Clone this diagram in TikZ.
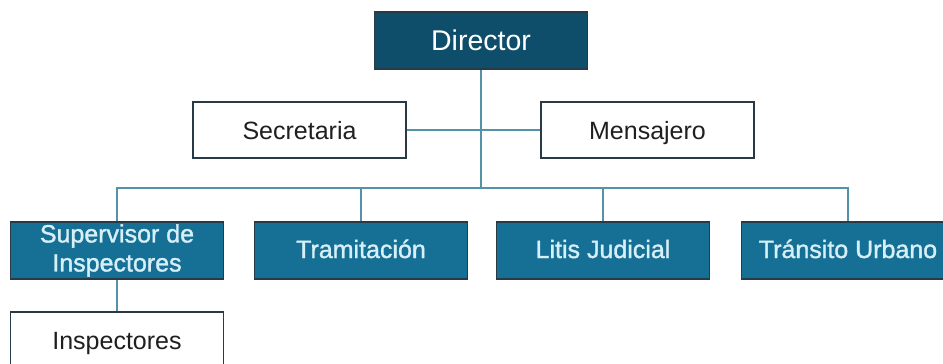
\documentclass[tikz,border=0pt]{standalone}
\usepackage{fontspec}
\setmainfont{Liberation Sans}
\newfontfamily\semib[FakeBold=1.3]{Liberation Sans}
\usetikzlibrary{backgrounds}
\definecolor{dirfill}{RGB}{14,78,106}
\definecolor{unitfill}{RGB}{22,112,150}
\definecolor{boxline}{RGB}{40,58,70}
\definecolor{conn}{RGB}{84,146,170}
\definecolor{unittext}{RGB}{215,240,248}
\tikzset{
  base/.style={draw=boxline, line width=1.8pt, minimum width=213pt, minimum height=57pt, inner sep=0pt, align=center},
  topbox/.style={base, fill=dirfill, text=white, font=\fontsize{28.5}{32}\selectfont},
  whitebox/.style={base, fill=white, text=black!88, font=\fontsize{25}{29}\selectfont, text height=23pt, text depth=5pt},
  unitbox/.style={base, fill=unitfill, text=unittext, font=\semib\fontsize{25}{28}\selectfont},
  oneline/.style={text height=20pt, text depth=5pt},
  link/.style={draw=conn, line width=1.8pt}
}
\begin{document}
\begin{tikzpicture}[x=1pt,y=-1pt]
\useasboundingbox (0,0) rectangle (943,364);
\clip (0,0) rectangle (943,364);
\coordinate (busy) at (0,188);
\node[topbox] (dir) at (481,40.5) {Director};
\node[whitebox, minimum height=56pt] (sec) at (299.5,130) {Secretaria};
\node[whitebox, minimum height=56pt] (men) at (647.5,130) {Mensajero};
\node[unitbox] (sup) at (117,250.5) {Supervisor de\\[1pt]Inspectores};
\node[unitbox, oneline] (tra) at (361,250.5) {Tramitación};
\node[unitbox, oneline] (lit) at (603,250.5) {Litis Judicial};
\node[unitbox, oneline] (tu) at (848,250.5) {Tránsito Urbano};
\node[whitebox] (ins) at (117,340.5) {Inspectores};
\begin{scope}[on background layer]
\fill[white] (0,0) rectangle (943,364);
\draw[link] (sec.east) -- (men.west);
\draw[link] (dir.south) -- (dir.south |- busy);
\draw[link] (sup.north) -- (sup.north |- busy) -- (tu.north |- busy) -- (tu.north);
\draw[link] (tra.north) -- (tra.north |- busy);
\draw[link] (lit.north) -- (lit.north |- busy);
\draw[link] (sup.south) -- (ins.north);
\end{scope}
\end{tikzpicture}
\end{document}
